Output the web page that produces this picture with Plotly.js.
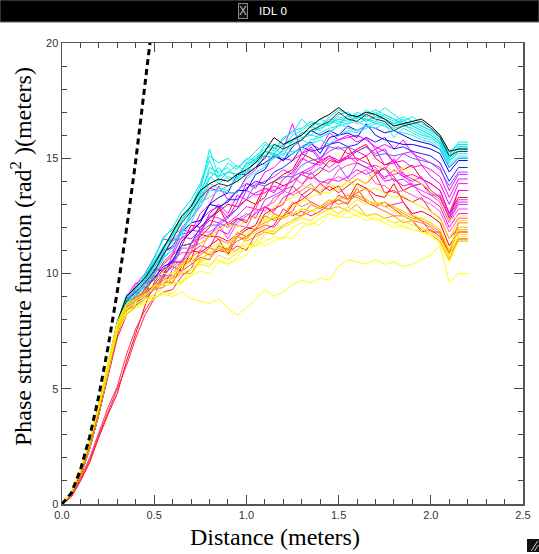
<!DOCTYPE html>
<html>
<head>
<meta charset="utf-8">
<script src="https://cdn.plot.ly/plotly-3.0.1.min.js"></script>
<style>
html,body{margin:0;padding:0;background:#fff;}
#chart{width:539px;height:554px;}
</style>
</head>
<body>
<div id="chart"></div>
<script>
// ---------- DATA ----------
const distance = [0,0.05,0.10,0.15,0.20,0.25,0.30,0.35,0.40,0.45,0.50,0.55,0.60,0.65,0.70,0.75,0.80,0.85,0.90,0.95,1.00,1.05,1.10,1.15,1.20,1.25,1.30,1.35,1.40,1.45,1.50,1.55,1.60,1.65,1.70,1.75,1.80,1.85,1.90,1.95,2.00,2.05,2.10,2.15,2.20];

// Kolmogorov reference (dashed)
const kolmoX = [0,0.05,0.10,0.15,0.20,0.25,0.30,0.35,0.40,0.45,0.48];
const kolmoY = [0,0.47,1.48,2.91,4.70,6.82,9.23,11.93,14.9,18.1,20.2];

const redSeries = [
 [0,0.4,1.2,2.4,3.9,5.6,7.4,8.4,8.8,9.3,10.2,10.1,10.5,10.5,11.3,11.6,12.0,12.9,12.1,12.4,12.2,13.0,13.3,14.0,13.8,14.0,14.3,14.1,14.4,14.9,14.8,15.5,14.9,15.1,14.3,14.6,14.2,13.6,13.8,13.9,13.6,13.3,12.4,13.6,13.6],
 [0,0.4,1.2,2.4,3.9,5.5,7.2,8.2,8.6,9.4,9.3,9.6,9.6,10.3,10.6,11.7,11.6,11.6,11.4,11.7,12.0,11.9,12.6,12.8,13.0,13.8,13.4,13.7,13.5,13.8,13.5,13.8,14.1,13.9,14.3,13.5,13.6,13.3,13.1,13.3,12.7,12.4,11.5,12.0,12.0],
 [0,0.3,1.0,1.8,2.9,3.9,4.8,6.2,7.4,8.6,9.6,10.2,10.3,10.1,11.0,10.9,11.2,11.5,10.8,11.6,11.9,12.1,12.9,12.6,12.4,13.0,13.2,13.5,13.9,13.6,13.8,13.2,13.9,13.7,13.4,13.3,13.9,13.1,12.6,12.7,12.5,12.2,11.2,11.8,11.8],
 [0,0.3,1.1,2.0,3.1,4.2,5.1,6.5,7.6,8.4,9.0,9.9,9.9,10.1,10.4,10.7,10.6,11.2,11.0,11.8,11.6,11.9,12.1,12.0,12.5,12.7,13.4,13.1,12.9,12.8,13.4,13.2,13.5,13.7,13.1,12.9,13.0,13.1,12.5,12.3,11.8,11.8,10.9,11.5,11.5],
 [0,0.3,1.0,1.9,3.0,4.0,5.0,6.0,7.2,8.2,8.9,9.2,9.3,9.9,10.2,11.0,10.8,11.0,10.9,11.2,11.0,11.7,11.9,12.1,12.8,12.5,12.7,12.5,12.7,13.0,13.2,13.0,13.7,13.1,12.9,13.1,12.8,12.5,12.3,11.8,11.9,11.6,10.8,11.4,11.4],
 [0,0.4,1.2,2.5,4.0,5.7,7.5,8.5,9.0,9.1,10.0,10.4,10.8,11.2,12.1,12.0,12.4,12.7,13.0,12.9,13.2,13.0,13.8,14.0,14.3,14.5,15.2,15.0,14.8,15.1,14.8,15.1,15.4,15.6,15.0,14.7,14.9,14.5,14.7,14.1,13.9,13.6,12.6,13.3,13.3]
];

const magentaSeries = [
 [0,0.4,1.2,2.5,4.0,5.8,7.6,8.7,9.3,9.9,10.4,11.0,11.1,12.0,12.4,12.9,13.7,13.6,13.5,13.5,14.2,14.5,15.1,15.0,15.4,16.5,15.2,15.6,15.4,16.1,15.8,16.0,15.7,15.9,15.4,15.6,15.4,15.8,15.2,15.0,14.8,14.6,13.6,14.3,14.3],
 [0,0.4,1.3,2.6,4.2,6.0,7.9,8.9,9.5,10.0,10.7,11.5,11.4,11.7,11.8,12.6,13.0,13.8,13.2,13.6,13.9,13.7,14.4,14.6,15.0,14.9,15.2,15.4,14.9,15.6,15.8,15.9,16.0,15.8,15.5,15.3,14.8,15.2,15.3,14.7,14.5,14.2,13.3,14.1,14.1],
 [0,0.4,1.2,2.4,3.9,5.7,7.5,8.5,9.1,9.6,9.7,10.5,10.9,11.9,11.8,12.3,12.7,12.9,12.4,13.1,13.9,13.8,14.0,14.2,14.5,14.3,14.9,15.5,15.0,15.3,15.5,15.2,15.3,15.5,15.2,15.4,14.8,14.9,14.6,14.7,14.2,13.9,13.0,13.9,13.9],
 [0,0.4,1.3,2.5,4.1,5.9,7.7,8.8,9.4,9.7,10.3,10.8,11.5,11.5,11.9,11.8,12.6,13.0,12.6,13.4,13.2,13.5,13.7,13.5,14.1,14.4,15.0,14.8,14.7,15.0,14.8,15.0,15.3,15.1,15.4,14.7,14.8,14.2,14.3,14.1,13.9,13.6,12.6,13.6,13.6],
 [0,0.4,1.2,2.5,4.0,5.8,7.6,8.6,9.0,9.7,9.7,10.2,10.6,10.9,10.9,11.7,12.5,12.4,12.2,12.5,12.9,12.8,13.7,13.6,13.8,14.0,14.3,14.5,14.9,14.6,14.9,15.1,14.8,14.6,14.7,14.5,15.0,14.3,14.1,13.9,13.4,13.4,12.5,13.2,13.2],
 [0,0.4,1.3,2.6,4.2,6.0,7.9,9.0,9.6,9.4,9.9,9.9,10.8,11.6,11.5,11.9,12.3,12.2,12.5,12.8,13.6,13.4,13.5,13.8,13.6,14.2,14.4,14.6,14.9,15.1,14.9,15.0,15.0,14.8,14.6,14.1,14.5,14.2,14.0,14.2,13.6,13.3,12.3,13.0,13.0],
 [0,0.4,1.2,2.4,3.9,5.6,7.4,8.4,8.8,9.2,9.9,9.9,10.3,10.6,11.0,11.8,11.8,12.1,11.5,12.2,12.5,12.8,12.7,13.3,13.5,14.2,13.9,14.2,14.0,13.9,14.5,14.7,14.8,14.6,14.4,14.2,14.3,14.4,13.8,13.6,13.4,13.1,12.2,12.8,12.8],
 [0,0.4,1.2,2.5,4.1,5.9,7.8,8.9,9.2,9.0,9.4,9.8,10.5,10.5,10.9,11.2,11.1,11.9,11.7,12.4,12.3,12.6,12.9,12.7,13.3,13.5,13.8,14.4,13.9,14.1,14.0,14.2,14.5,14.3,14.5,14.0,14.1,13.8,13.9,13.4,13.2,12.9,12.0,12.6,12.6],
 [0,0.4,1.2,2.4,3.9,5.6,7.4,8.4,8.6,8.9,9.3,9.4,10.2,10.5,11.2,11.3,11.6,12.2,12.0,12.3,12.6,12.4,13.2,13.4,13.6,13.8,14.4,14.3,14.6,14.4,14.7,14.1,14.8,14.6,14.4,14.6,14.0,14.1,13.8,13.9,13.5,13.2,12.4,13.1,13.1],
 [0,0.4,1.2,2.5,4.0,5.7,7.5,8.5,8.9,9.2,9.3,10.0,10.3,11.1,11.1,11.5,11.7,12.0,12.2,12.1,12.0,12.7,12.9,13.1,13.6,13.4,13.6,13.9,13.4,14.0,14.2,14.0,14.3,14.5,13.9,13.8,13.5,13.6,13.4,13.2,13.0,12.7,11.8,12.4,12.4]
];

const blueSeries = [
 [0,0.4,1.2,2.5,4.0,5.8,7.6,8.6,8.9,9.3,9.8,10.3,10.5,11.4,11.8,12.2,13.0,12.9,13.1,13.6,13.6,14.3,14.5,15.2,14.9,15.2,15.5,15.7,15.2,15.9,16.0,16.1,15.9,16.5,16.0,15.8,15.7,15.6,15.6,15.5,15.4,15.2,14.4,14.9,14.9],
 [0,0.4,1.2,2.4,3.9,5.6,7.4,8.5,8.8,9.1,9.5,10.0,10.6,11.2,11.3,12.0,12.4,12.8,13.2,13.2,13.7,14.0,13.9,14.4,14.6,14.9,15.5,15.3,15.4,15.6,15.7,15.5,15.6,15.9,15.7,15.9,15.4,15.5,15.3,15.2,15.1,14.8,14.0,14.6,14.6],
 [0,0.4,1.3,2.5,4.1,5.9,7.7,8.7,9.0,9.5,10.0,10.9,11.2,11.8,12.2,12.3,13.0,13.3,13.5,14.3,14.3,14.6,14.8,15.1,14.9,15.5,15.8,16.2,16.0,16.2,16.0,16.4,16.2,16.4,16.3,16.1,16.2,16.0,15.8,15.7,15.6,15.4,14.6,15.0,15.0],
 [0,0.4,1.2,2.4,3.9,5.7,7.5,8.4,8.7,9.0,9.4,9.9,10.4,11.2,11.3,11.8,12.1,12.1,12.4,12.8,13.2,13.9,13.8,14.0,14.2,14.2,14.7,14.9,15.0,15.5,15.4,15.5,15.3,15.5,15.1,15.2,15.1,15.2,15.0,14.9,14.8,14.5,13.8,14.4,14.4]
];

const cyanSeries = [
 [0,0.4,1.3,2.6,4.2,6.0,7.9,9.0,9.3,9.9,10.6,11.6,11.9,12.4,13.0,13.6,15.4,14.2,14.8,14.5,15.0,14.9,15.6,15.3,15.9,16.1,16.7,16.3,16.7,16.5,16.9,17.0,16.7,17.1,16.8,17.2,16.9,16.6,16.8,16.5,16.3,16.0,15.3,15.6,15.6],
 [0,0.4,1.2,2.5,4.1,5.8,7.7,8.9,9.1,9.6,10.2,10.9,11.5,11.8,12.6,13.2,14.1,14.6,14.1,14.0,14.6,15.0,15.1,15.5,15.1,15.8,16.0,16.4,16.2,16.6,16.5,16.8,16.9,16.6,16.9,16.7,16.5,16.7,16.4,16.2,16.0,15.7,14.9,15.4,15.4],
 [0,0.4,1.3,2.6,4.1,5.9,7.8,8.8,9.4,9.7,10.4,11.0,11.7,12.5,12.9,13.8,14.9,14.0,14.4,14.7,14.4,14.9,15.3,15.2,15.6,15.7,16.1,16.0,16.4,16.7,16.6,16.5,16.8,16.7,16.6,16.9,16.7,16.4,16.5,16.3,16.1,15.8,15.0,15.5,15.5],
 [0,0.4,1.2,2.4,4.0,5.7,7.6,8.7,9.0,9.5,10.1,10.7,11.7,11.9,12.4,13.1,13.9,13.7,13.6,14.2,14.4,14.6,15.3,15.1,15.3,15.5,15.8,15.6,16.1,16.3,16.4,16.9,16.5,16.7,16.5,16.6,16.4,16.5,16.2,16.0,15.9,15.6,14.8,15.3,15.3],
 [0,0.4,1.3,2.5,4.2,6.0,7.9,9.1,9.2,9.8,10.5,11.2,11.6,12.3,12.8,13.4,14.6,14.4,14.6,14.1,14.8,15.1,15.4,15.6,15.5,16.0,16.2,16.5,16.5,16.4,16.8,16.7,17.0,16.8,17.0,16.8,16.6,16.8,16.6,16.4,16.2,15.9,15.1,15.7,15.7],
 [0,0.4,1.2,2.5,4.0,5.8,7.7,8.8,9.2,9.5,10.0,10.6,11.2,11.8,12.7,12.9,13.6,13.6,13.8,14.0,14.3,14.9,14.7,15.0,15.2,15.3,15.3,15.8,15.9,16.1,16.5,16.3,16.2,16.4,16.3,16.5,15.9,16.3,16.1,15.9,15.8,15.5,14.7,15.1,15.1],
 [0,0.4,1.3,2.6,4.2,6.0,7.8,9.0,9.4,10.0,10.7,11.5,12.0,12.7,13.2,13.9,15.1,14.8,15.0,14.6,14.9,15.3,15.7,15.4,15.8,16.2,16.3,16.6,16.4,16.8,17.1,16.9,16.8,16.9,17.1,16.9,16.7,16.5,16.6,16.4,16.2,15.9,15.2,15.6,15.6],
 [0,0.4,1.2,2.4,4.0,5.7,7.6,8.7,9.1,9.6,10.3,10.9,11.4,11.7,12.6,13.3,14.2,13.9,14.2,14.1,14.8,14.8,15.1,15.0,15.4,15.6,15.9,16.0,15.9,16.1,16.4,16.5,16.6,16.4,16.6,16.5,16.3,16.4,16.3,16.1,15.9,15.6,14.9,15.2,15.2],
 [0,0.4,1.2,2.5,4.1,5.9,7.7,8.8,9.0,9.4,9.9,10.7,11.0,11.6,12.2,13.1,13.3,13.6,13.5,13.5,14.1,14.4,14.6,15.2,15.0,15.2,15.5,15.6,15.8,15.6,16.0,16.2,16.1,16.3,16.5,16.4,16.2,16.1,16.0,15.8,15.7,15.4,14.6,15.0,15.0],
 [0,0.4,1.3,2.6,4.2,5.9,7.8,9.0,9.3,9.9,10.5,11.1,11.8,12.3,12.9,13.5,14.4,14.2,14.4,14.3,14.7,15.0,15.3,15.2,15.6,15.8,16.1,16.2,16.3,16.5,16.7,16.6,16.8,16.6,16.8,16.7,16.5,16.6,16.4,16.2,16.0,15.7,15.0,15.5,15.5]
];

const blackSeries = [
 [0,0.4,1.3,2.6,4.2,6.0,7.9,9.0,9.4,9.8,10.4,11.1,11.8,12.5,12.9,13.6,13.9,14.1,14.0,14.3,14.5,14.8,15.3,15.9,15.6,15.8,16.0,16.4,16.7,16.9,17.2,16.9,16.8,17.0,16.9,16.7,16.4,16.5,16.6,16.7,16.4,16.0,15.3,15.4,15.4],
 [0,0.4,1.2,2.5,4.1,5.9,7.8,8.8,9.2,9.6,10.1,10.8,11.5,12.2,12.7,13.3,13.7,13.9,13.8,14.0,14.3,14.6,15.0,15.6,15.4,15.6,15.8,16.2,16.4,16.6,17.0,16.7,16.6,16.9,16.7,16.6,16.2,16.4,16.5,16.6,16.3,15.9,15.1,15.3,15.3]
];

const orangeSeries = [
 [0,0.4,1.2,2.5,4.0,5.8,7.6,8.6,9.0,9.2,9.5,9.8,9.8,10.4,10.7,11.0,11.7,11.5,11.3,11.6,11.5,12.0,12.2,12.4,12.5,13.1,12.9,13.1,12.9,13.2,13.0,13.1,13.4,13.2,13.0,13.1,12.9,12.6,12.4,12.3,12.1,11.8,10.9,11.9,11.9],
 [0,0.4,1.2,2.4,3.9,5.6,7.4,8.4,8.7,8.9,9.5,9.5,9.8,10.0,10.0,10.6,10.9,11.1,10.9,11.6,11.4,11.6,11.8,11.7,12.1,12.3,12.5,12.7,12.9,12.8,12.9,12.7,13.0,12.5,12.6,12.4,12.5,12.2,12.3,11.9,11.7,11.4,10.6,11.5,11.5],
 [0,0.4,1.2,2.5,4.0,5.7,7.5,8.5,8.8,9.1,9.4,9.7,10.0,10.5,10.5,10.8,11.1,11.0,11.1,11.4,11.6,11.9,12.5,12.3,12.4,12.6,12.5,13.0,12.8,13.1,13.2,13.4,13.3,13.1,12.9,12.7,12.5,12.5,12.3,12.2,12.0,11.7,10.9,12.2,12.2]
];

const yellowSeries = [
 [0,0.5,1.5,2.8,4.4,6.2,7.9,8.7,8.9,9.1,9.4,10.0,10.0,10.3,10.5,10.5,11.1,11.3,11.1,11.8,11.7,12.0,12.3,12.5,12.4,12.9,13.1,13.3,13.5,13.5,13.7,13.9,14.1,13.9,14.5,14.7,14.4,14.6,14.2,13.9,13.6,13.2,12.3,12.5,12.5],
 [0,0.5,1.4,2.7,4.3,6.0,7.7,8.4,8.6,8.8,9.1,9.4,9.6,9.6,10.2,10.5,10.7,11.3,10.8,11.0,11.3,11.2,11.7,11.9,12.1,12.3,12.8,12.7,12.6,12.8,12.6,12.9,13.2,13.0,13.1,12.9,12.7,12.5,12.3,12.4,12.2,11.9,11.0,12.0,12.0],
 [0,0.5,1.5,2.8,4.4,6.1,7.8,8.6,8.8,9.0,9.5,9.5,9.7,10.0,10.2,10.4,10.3,10.8,10.6,10.9,11.1,11.4,11.9,11.8,12.0,12.2,12.4,12.3,12.6,12.8,12.6,12.9,12.7,12.5,12.6,12.4,12.2,12.3,12.1,12.0,11.8,11.5,10.7,11.7,11.7],
 [0,0.5,1.4,2.7,4.2,5.9,7.6,8.3,8.5,8.7,8.9,9.2,9.1,9.6,9.9,10.5,10.4,10.6,10.4,10.7,11.2,11.2,11.4,11.6,11.5,12.0,12.2,12.1,12.4,12.6,12.4,12.7,12.5,12.3,12.4,12.2,12.0,12.1,11.9,11.8,11.6,11.3,10.5,11.4,11.4],
 [0,0.5,1.5,2.8,4.3,6.0,7.8,8.6,8.9,9.3,9.7,10.1,10.4,10.3,11.0,11.3,11.6,11.9,12.1,12.0,12.3,12.5,12.3,12.9,13.1,13.3,13.8,13.7,13.6,13.9,13.7,14.0,13.8,13.6,13.7,13.5,13.3,13.4,13.1,12.9,12.7,12.4,11.5,12.3,12.3],
 [0,0.5,1.4,2.7,4.2,5.9,7.5,8.2,8.5,8.8,9.0,9.1,9.0,9.2,8.9,8.8,8.7,8.9,8.5,8.2,8.5,8.9,9.3,9.0,9.2,9.5,9.7,9.6,9.8,9.7,10.3,10.6,10.5,10.4,10.6,10.4,10.5,10.3,10.4,10.6,10.8,11.2,9.6,10.0,10.0],
 [0,0.5,1.5,2.8,4.4,6.1,7.8,8.5,8.7,8.9,9.1,9.6,9.5,9.7,9.9,10.1,10.0,10.5,10.4,10.6,10.8,11.4,11.2,11.4,11.6,11.5,12.0,12.2,12.1,12.6,12.5,12.4,12.6,12.5,12.3,12.4,12.2,12.0,11.9,11.8,11.7,11.5,10.8,11.6,11.6],
 [0,0.5,1.4,2.7,4.3,6.0,7.7,8.5,8.8,9.1,9.3,9.6,9.9,10.1,10.7,10.6,10.9,11.1,11.0,11.0,11.5,11.8,12.0,12.6,12.4,12.6,12.8,12.7,12.9,13.1,13.3,13.2,13.7,13.2,13.0,13.1,12.9,12.7,12.5,12.4,12.2,11.9,11.0,11.9,11.9]
];

const xTickVals = [0,0.5,1.0,1.5,2.0,2.5];
const xTickText = ['0.0','0.5','1.0','1.5','2.0','2.5'];
const yTickVals = [0,5,10,15,20];
const yTickText = ['0','5','10','15','20'];
const xTitle = 'Distance (meters)';
const yTitle = 'Phase structure function (rad<sup>2</sup> )(meters)';
const windowTitle = 'IDL 0';

// ---------- STYLE ----------
const groups = [
  {data: redSeries,     colors: ['#ff0000','#ff1040','#ff0000','#ff3060','#ff2050','#ff0000']},
  {data: magentaSeries, colors: ['#ff00ff','#ff00ff','#ee10ee','#ff00ff','#ff20e0','#ff00ff','#ff40d0','#ff00ff','#b040ff','#ff50c0']},
  {data: blueSeries,    colors: ['#0000ff','#2020ff','#0000ee','#6060ff']},
  {data: cyanSeries,    colors: ['#00eeee','#10e8e8','#00f0f0','#20e0e0','#00eeee','#30e8f0','#00e8e8','#10f0f0','#20e8e8','#00e0e0']},
  {data: blackSeries,   colors: ['#000000','#303030']},
  {data: orangeSeries,  colors: ['#ff8c00','#ffa000','#ff7020']},
  {data: yellowSeries,  colors: ['#ffff00','#f0f000','#ffe000','#ffff00','#f8e800','#ffff00','#ffff20','#ffd800']}
];

const traces = [];
groups.forEach(g => {
  g.data.forEach((ys, i) => {
    traces.push({
      x: distance, y: ys, type: 'scatter', mode: 'lines',
      line: {color: g.colors[i % g.colors.length], width: 1},
      hoverinfo: 'skip', showlegend: false
    });
  });
});
traces.push({
  x: kolmoX, y: kolmoY, type: 'scatter', mode: 'lines',
  line: {color: '#000', width: 3, dash: '6px,4px'},
  hoverinfo: 'skip', showlegend: false
});

const axisCommon = {
  showgrid: false, zeroline: false, showline: true,
  linecolor: '#555', linewidth: 1.5, mirror: 'allticks',
  ticks: 'inside', ticklen: 9, tickwidth: 1, tickcolor: '#444',
  tickfont: {family: 'Liberation Sans, Arial, sans-serif', size: 11, color: '#333'}
};

const titleFont = {family: 'Liberation Serif, Times New Roman, serif', size: 24, color: '#000'};

const layout = {
  width: 539, height: 554,
  margin: {l: 62, r: 16, t: 43, b: 50, pad: 0},
  paper_bgcolor: '#fff', plot_bgcolor: '#fff',
  showlegend: false,
  xaxis: Object.assign({}, axisCommon, {
    range: [0, 2.5], tickvals: xTickVals, ticktext: xTickText,
    minor: {dtick: 0.1, ticks: 'inside', ticklen: 5, tickcolor: '#444', showgrid: false}
  }),
  yaxis: Object.assign({}, axisCommon, {
    range: [0, 20], tickvals: yTickVals, ticktext: yTickText,
    minor: {dtick: 1, ticks: 'inside', ticklen: 5, tickcolor: '#444', showgrid: false}
  }),
  shapes: [
    {type: 'rect', xref: 'paper', yref: 'paper', x0: -0.1345, x1: 1.0347, y0: 1.0455, y1: 1.0933,
     fillcolor: '#000', line: {color: '#666', width: 1}, layer: 'above'},
    {type: 'rect', xref: 'paper', yref: 'paper', x0: 1.0087, x1: 1.0347, y0: -0.1041, y1: -0.0759,
     fillcolor: '#111', line: {width: 0}},
    {type: 'line', xref: 'paper', yref: 'paper', x0: 1.0180, y0: -0.1020, x1: 1.0320, y1: -0.0800,
     line: {color: '#ccc', width: 1}},
    {type: 'line', xref: 'paper', yref: 'paper', x0: 1.0250, y0: -0.1020, x1: 1.0330, y1: -0.0890,
     line: {color: '#ccc', width: 1}}
  ],
  annotations: [
    {xref: 'paper', yref: 'paper', x: 0.462, y: -0.0716, text: xTitle, showarrow: false,
     font: titleFont, xanchor: 'center', yanchor: 'middle'},
    {xref: 'paper', yref: 'paper', x: -0.0889, y: 0.5358, text: yTitle, showarrow: false, textangle: -90,
     font: titleFont, xanchor: 'center', yanchor: 'middle'},
    {xref: 'paper', yref: 'paper', x: 0.3937, y: 1.0694, text: 'X', showarrow: false,
     font: {family: 'Liberation Sans, Arial, sans-serif', size: 12, color: '#bbb'},
     bordercolor: '#888', borderwidth: 1, borderpad: 0, bgcolor: '#111', xanchor: 'center', yanchor: 'middle'},
    {xref: 'paper', yref: 'paper', x: 0.4230, y: 1.0694, text: windowTitle, showarrow: false,
     font: {family: 'DejaVu Sans, sans-serif', size: 11, color: '#fff'}, xanchor: 'left', yanchor: 'middle'}
  ]
};

Plotly.newPlot('chart', traces, layout, {staticPlot: true, displayModeBar: false});
</script>
</body>
</html>
